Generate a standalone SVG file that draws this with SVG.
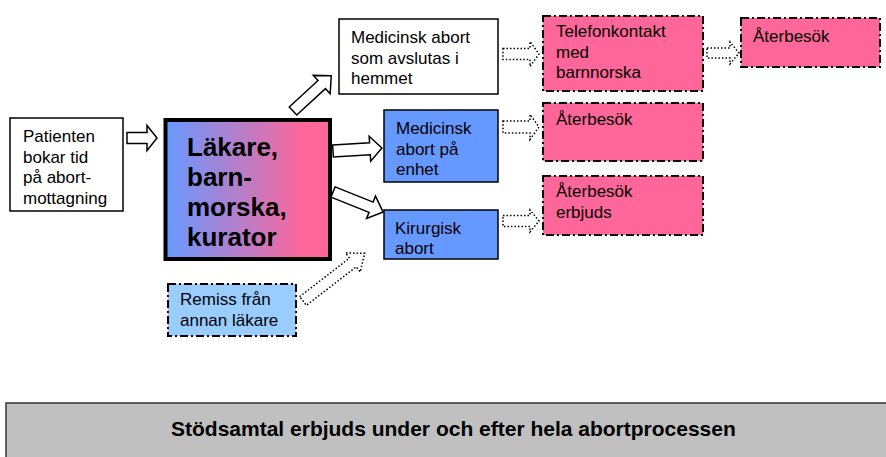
<svg xmlns="http://www.w3.org/2000/svg" width="886" height="457" viewBox="0 0 886 457">
<style>
text{font-family:"Liberation Sans",Arial,sans-serif;fill:#000}
.t{font-size:17px}
.b{font-size:26px;font-weight:bold}
.solid{stroke:#000;stroke-width:1.5}
.dd{stroke:#000;stroke-width:2;stroke-dasharray:8 3 2 3}
.blk{fill:#fff;stroke:#000;stroke-width:1.5;stroke-linejoin:miter}
.dot{fill:#fff;stroke:#000;stroke-width:1.5;stroke-dasharray:1.5 2}
</style>
<defs>
<linearGradient id="g" x1="0" y1="0" x2="1" y2="0">
<stop offset="0" stop-color="#6699ff"/>
<stop offset="0.85" stop-color="#ff6699"/>
</linearGradient>
</defs>
<g id="connectors">
<polygon class="blk" transform="translate(127,138)" points="0,-5.5 20,-5.5 20,-12.5 30,0 20,12.5 20,5.5 0,5.5"/>
<polygon class="blk" transform="translate(293,111) rotate(-42.6)" points="0,-5.5 39,-5.5 39,-12.5 52,0 39,12.5 39,5.5 0,5.5"/>
<polygon class="blk" transform="translate(333,151) rotate(-3.5)" points="0,-6 37,-6 37,-12.5 49,0 37,12.5 37,6 0,6"/>
<polygon class="blk" transform="translate(333,192) rotate(21.8)" points="0,-5.5 41,-5.5 41,-12 54,0 41,12 41,5.5 0,5.5"/>
<polygon class="dot" transform="translate(503,54)" points="0,-5.5 27,-5.5 27,-12.5 36,0 27,12.5 27,5.5 0,5.5"/>
<polygon class="dot" transform="translate(503,127)" points="0,-6 27,-6 27,-12.5 36,0 27,12.5 27,6 0,6"/>
<polygon class="dot" transform="translate(503,221)" points="0,-5.5 27,-5.5 27,-11 36,0 27,11 27,5.5 0,5.5"/>
<polygon class="dot" transform="translate(707,53)" points="0,-5 23,-5 23,-11 32,0 23,11 23,5 0,5"/>
<polygon class="dot" transform="translate(303,301) rotate(-37.7)" points="0,-5.5 63,-5.5 63,-12 78,0 63,12 63,5.5 0,5.5"/>
</g>
<g id="patienten">
<rect class="solid" x="10" y="118" width="113" height="93" fill="#fff"/>
<text class="t" x="23" y="142">Patienten</text>
<text class="t" x="23" y="162.5">bokar tid</text>
<text class="t" x="23" y="183">på abort-</text>
<text class="t" x="23" y="203.5">mottagning</text>
</g>
<g id="lakare">
<rect x="165.5" y="120" width="164.5" height="139" fill="url(#g)" stroke="#000" stroke-width="4"/>
<text class="b" x="187" y="156">Läkare,</text>
<text class="b" x="187" y="186">barn-</text>
<text class="b" x="187" y="216">morska,</text>
<text class="b" x="187" y="246">kurator</text>
</g>
<g id="hemmet">
<rect class="solid" x="339" y="19" width="159" height="75" fill="#fff"/>
<text class="t" x="351" y="43">Medicinsk abort</text>
<text class="t" x="351" y="63.5">som avslutas i</text>
<text class="t" x="351" y="84">hemmet</text>
</g>
<g id="enhet">
<rect class="solid" x="384" y="110" width="114" height="72" fill="#6699ff"/>
<text class="t" x="396" y="134">Medicinsk</text>
<text class="t" x="396" y="154.5">abort på</text>
<text class="t" x="396" y="175">enhet</text>
</g>
<g id="kirurgisk">
<rect class="solid" x="384" y="210" width="114" height="49" fill="#6699ff"/>
<text class="t" x="395" y="234">Kirurgisk</text>
<text class="t" x="395" y="254">abort</text>
</g>
<g id="telefon">
<rect class="dd" x="543" y="16" width="160" height="75" fill="#ff6699"/>
<text class="t" x="556" y="37">Telefonkontakt</text>
<text class="t" x="556" y="57.5">med</text>
<text class="t" x="556" y="78">barnnorska</text>
</g>
<g id="aterbesok1">
<rect class="dd" x="741" y="18" width="139" height="49" fill="#ff6699"/>
<text class="t" x="753" y="42">Återbesök</text>
</g>
<g id="aterbesok2">
<rect class="dd" x="543" y="103" width="160" height="58" fill="#ff6699"/>
<text class="t" x="556" y="125">Återbesök</text>
</g>
<g id="aterbesok3">
<rect class="dd" x="543" y="176" width="160" height="59" fill="#ff6699"/>
<text class="t" x="556" y="197">Återbesök</text>
<text class="t" x="556" y="217.5">erbjuds</text>
</g>
<g id="remiss">
<rect class="dd" x="168" y="284" width="128" height="52" fill="#99ccff"/>
<text class="t" x="180" y="305">Remiss från</text>
<text class="t" x="180" y="325.5">annan läkare</text>
</g>
<g id="stodsamtal">
<rect x="6" y="403" width="885" height="60" fill="#c0c0c0" stroke="#333" stroke-width="1.5"/>
<text x="171" y="436" font-size="21" font-weight="bold">Stödsamtal erbjuds under och efter hela abortprocessen</text>
</g>
</svg>
